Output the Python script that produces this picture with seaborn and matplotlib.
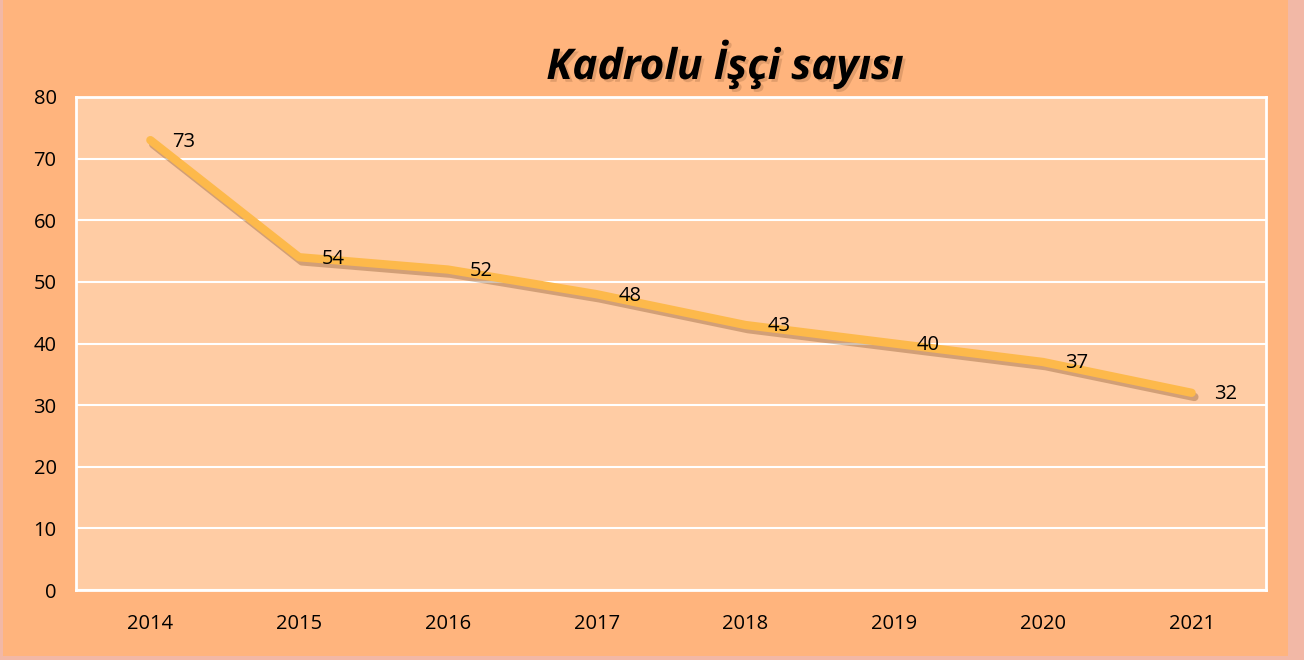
import matplotlib
matplotlib.use("Agg")
import matplotlib.pyplot as plt
import matplotlib.patheffects as pe
from matplotlib.patches import Rectangle
import seaborn as sns
import pandas as pd

years = ["2014", "2015", "2016", "2017", "2018", "2019", "2020", "2021"]
values = [73, 54, 52, 48, 43, 40, 37, 32]
title = "Kadrolu İşçi sayısı"

sns.set_theme(style="white")
plt.rcParams["font.family"] = ["Open Sans", "DejaVu Sans"]

df = pd.DataFrame({"year": years, "value": values})

fig = plt.figure(figsize=(13.04, 6.6), dpi=100)
fig.patch.set_facecolor("#F2B8A6")
bg = Rectangle((3 / 1304, 4 / 660), 1285 / 1304, 656 / 660,
               transform=fig.transFigure, facecolor="#FFB47D",
               edgecolor="none", zorder=-10)
fig.patches.append(bg)

ax = fig.add_axes([76 / 1304, 1 - 590 / 660, 1190 / 1304, 493 / 660])
ax.set_zorder(1)
ax.set_facecolor("#FFCCA4")

sns.lineplot(data=df, x="year", y="value", ax=ax, color="#FDB94B",
             linewidth=6, sort=False, zorder=3,
             path_effects=[pe.SimpleLineShadow(offset=(2, -3), shadow_color="#6a3a10", alpha=0.3),
                           pe.Normal()])
ax.lines[0].set_solid_capstyle("round")
ax.lines[0].set_solid_joinstyle("round")

for i, v in enumerate(values):
    ax.annotate(str(v), (i, v), xytext=(16, -1), textcoords="offset points",
                ha="left", va="center", fontsize=14.5,
                color="black", zorder=4)

ax.set_xlim(-0.5, 7.5)
ax.set_ylim(0, 80)
ax.set_yticks(range(0, 81, 10))
ax.grid(axis="y", color="white", linewidth=1.5)
ax.set_axisbelow(True)
for s in ax.spines.values():
    s.set_color("white")
    s.set_linewidth(2)
ax.tick_params(axis="both", length=0, labelsize=14.5, colors="black")
ax.tick_params(axis="y", pad=14)
ax.tick_params(axis="x", pad=17)
ax.set_xlabel("")
ax.set_ylabel("")

fig.text(725 / 1304, 1 - 65 / 660, title, ha="center", va="center",
         fontsize=30.5, fontweight="bold", fontstyle="italic", color="black",
         path_effects=[pe.withSimplePatchShadow(offset=(2, -2), shadow_rgbFace="#6a4020", alpha=0.2)])

fig.savefig("out.png", dpi=100, facecolor=fig.get_facecolor())
